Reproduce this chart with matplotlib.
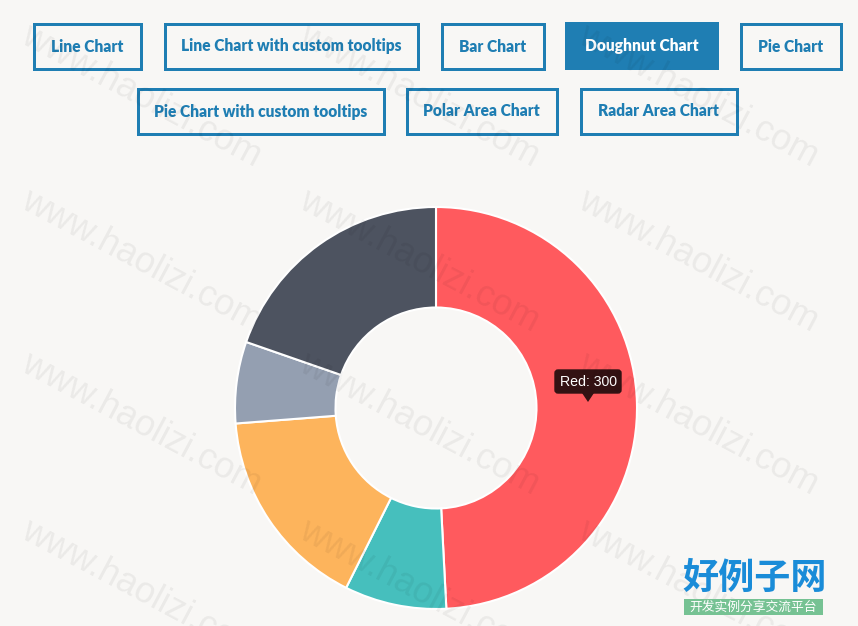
import matplotlib
matplotlib.use("Agg")
import matplotlib.pyplot as plt
from matplotlib.patches import Rectangle, FancyBboxPatch, Polygon

W, H = 858, 626
BG = "#F8F7F5"
BLUE = "#1F7EB3"

labels = ["Red", "Green", "Yellow", "Grey", "Dark Grey"]
values = [300, 50, 100, 40, 120]
colors = ["#FF5A5E", "#46BFBD", "#FDB45C", "#949FB1", "#4D5360"]

buttons_row1 = ["Line Chart", "Line Chart with custom tooltips", "Bar Chart", "Doughnut Chart", "Pie Chart"]
buttons_row2 = ["Pie Chart with custom tooltips", "Polar Area Chart", "Radar Area Chart"]
active_button = "Doughnut Chart"

fig = plt.figure(figsize=(W / 100, H / 100), dpi=100)
fig.patch.set_facecolor(BG)
ax = fig.add_axes([0, 0, 1, 1])
ax.set_facecolor(BG)

# doughnut (y axis is inverted later -> counterclock in data = clockwise on screen)
cx, cy, R = 436, 408, 201
ax.pie(values, colors=colors, startangle=270, counterclock=True,
       center=(cx, cy), radius=R, frame=True,
       wedgeprops=dict(width=R * 0.5, edgecolor="white", linewidth=1.5))

ax.set_xlim(0, W)
ax.set_ylim(H, 0)
ax.set_aspect("auto")
ax.axis("off")

# buttons
row1_x = [(32, 142), (163, 419), (440, 545), (565, 719), (739, 842)]
row2_x = [(136, 385), (405, 558), (579, 738)]
bw = 3
def button(x0, x1, y0, y1, text):
    active = text == active_button
    if active:
        ax.add_patch(Rectangle((x0, y0), x1 - x0, y1 - y0, facecolor=BLUE, edgecolor="none", zorder=3))
        tc = "white"
    else:
        ax.add_patch(Rectangle((x0 + bw / 2, y0 + bw / 2), x1 - x0 - bw, y1 - y0 - bw,
                               facecolor="none", edgecolor=BLUE, linewidth=bw * 0.72, zorder=3))
        tc = BLUE
    ax.text((x0 + x1) / 2, (y0 + y1) / 2 + 5.5, text, ha="center", va="baseline",
            fontsize=11.2, fontweight="heavy", family="Lato", color=tc, zorder=4)

for (x0, x1), t in zip(row1_x, buttons_row1):
    button(x0, x1, 22, 70, t)
for (x0, x1), t in zip(row2_x, buttons_row2):
    button(x0, x1, 87, 135, t)

# tooltip
tip_col = "#331213"
ax.add_patch(FancyBboxPatch((555, 370), 66, 23, boxstyle="round,pad=0,rounding_size=3",
                            facecolor=tip_col, edgecolor=tip_col, linewidth=1, zorder=6))
ax.add_patch(Polygon([(582, 393), (594, 393), (588, 402)], closed=True,
                     facecolor=tip_col, edgecolor="none", zorder=6))
ax.text(588, 386.5, "Red: 300", ha="center", va="baseline", fontsize=10.2,
        family="Liberation Sans", color="white", zorder=7)

# watermarks
cols = [14, 292, 571, 848]
rows = [18, 183, 346, 513]
for ry in rows:
    for rx in cols:
        ax.text(rx + 5, ry + 24, "www.haolizi.com", rotation=-28, rotation_mode="anchor",
                ha="left", va="baseline", fontsize=26, family="Liberation Sans",
                color="black", alpha=0.055, zorder=8, clip_on=True)

# logo
ax.text(755, 578, "好例子网", ha="center", va="center", fontsize=26, fontweight="heavy",
        family=["Noto Sans CJK SC", "DejaVu Sans"], color="#1A8CD8", zorder=9)
ax.add_patch(Rectangle((684, 599), 139, 16, facecolor="#76C293", edgecolor="none", zorder=9))
ax.text(753.5, 607, "开发实例分享交流平台", ha="center", va="center", fontsize=9.2,
        family=["Noto Sans CJK SC", "DejaVu Sans"], color="white", zorder=10)

fig.savefig("out.png", dpi=100, facecolor=BG)
